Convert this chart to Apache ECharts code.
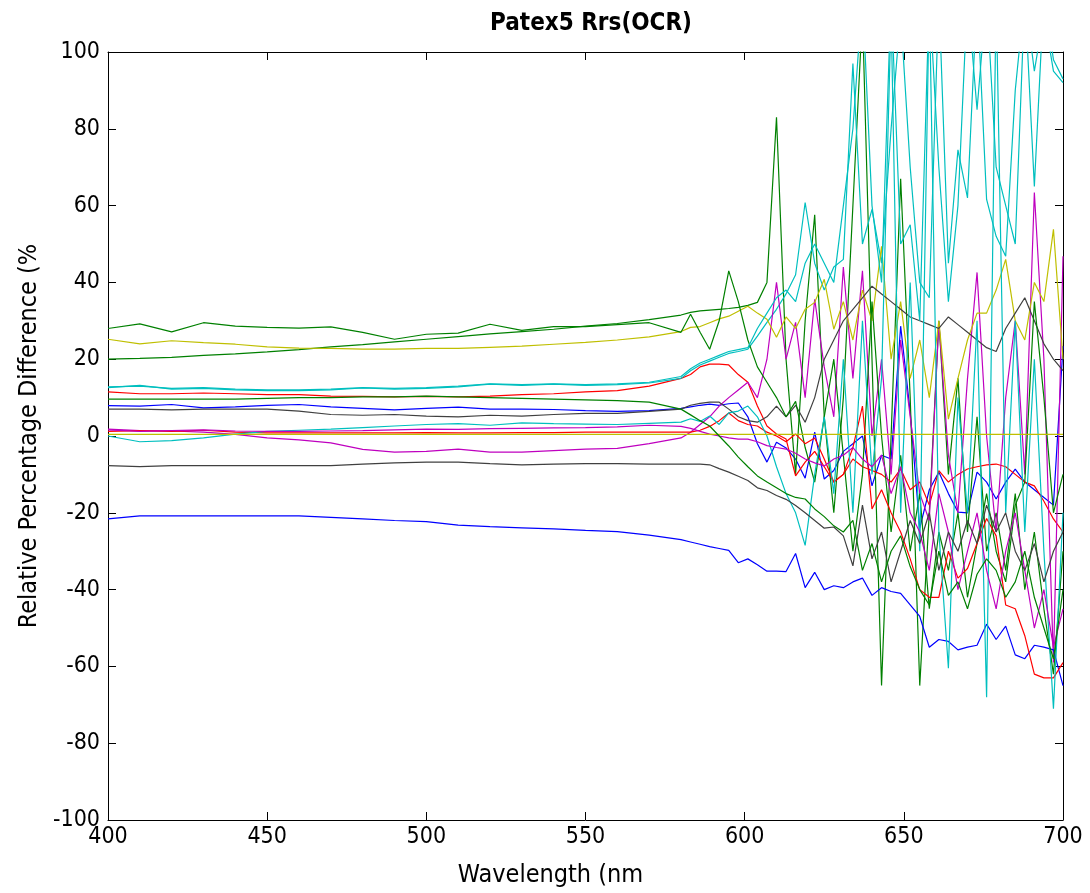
<!DOCTYPE html>
<html>
<head>
<meta charset="utf-8">
<script src="https://cdn.jsdelivr.net/npm/echarts@6/dist/echarts.min.js"></script>
<style>html,body{margin:0;padding:0;background:#fff}#c{width:1090px;height:893px}</style>
</head>
<body>
<div id="c"></div>
<script>
// Wavelength samples (nm)
const W = [400,410,420,430,440,450,460,470,480,490,500,510,520,530,540,550,560,570,
  580,583,586,589,592,595,598,601,604,607,610,613,616,619,622,625,628,631,634,637,640,643,646,649,652,655,658,661,664,667,670,673,676,679,682,685,688,691,694,697,700];
const xTicks = [400,450,500,550,600,650,700];
const yTicks = [-100,-80,-60,-40,-20,0,20,40,60,80,100];

// Relative percentage difference per series (%)
const blueHigh = [7.9,7.8,8.2,7.3,7.6,8.0,8.2,7.6,7.2,6.8,7.2,7.5,7.0,7.0,6.9,6.6,6.4,6.6,
  7.2,7.6,8.0,8.3,8.0,8.4,8.6,5,-2,-6.8,-1.6,-3.1,-6,-11,1,-11.2,-9,-4,-2,0,-13,-5,-6,28.6,6.2,-24,-14,-9.4,-15,-19.8,-20,-9.4,-12,-16.4,-12,-8.6,-12,-14,-16,-18,23.4];
const greenSmooth = [20,20.2,20.5,21,21.4,21.9,22.5,23.2,23.8,24.5,25.2,25.9,26.6,27.2,27.8,28.6,29.3,30.3,
  31.5,32.2,32.6,32.8,33,33.2,33.5,34,34.8,40,83,20,-10,30,57.6,5,-20,10,60,110,20,-65,0,67,10,-65,-20,30,-10,15,-25,5,-30,-20,-35,-15,-40,-25,-45,-62,-30];
const red1 = [11.5,11,11,11.2,11,10.8,10.8,10.4,10.3,10.2,10.3,10.2,10.4,10.8,11,11.5,11.8,13,
  15,16,18,18.7,18.7,18.5,16,14,7.8,2.6,0.5,-0.8,-10.4,-6.8,-4,-8,-12,-10,-6,-8,-9,-10,-12,-8.6,-14,-12,-18,-9,-12,-10,-8.6,-8,-7.5,-7.3,-8,-10,-12,-13,-17,-21.6,-25];
const cyan1 = [12.6,13.2,12.2,12.4,12,11.8,11.8,12,12.5,12.2,12.4,12.8,13.5,13.2,13.5,13.2,13.4,13.8,
  15,17,18.5,19.5,20.5,21.5,22,22.6,26,29.6,33,37,42,60.8,45,38,44,46,97,50,59,45,80,110,70,40,36,115,45,74.5,62,115,61.6,52,46.8,90,115,95,110,95,92];
const magenta1 = [1.8,1.4,1.3,1,0.4,-0.5,-1,-1.8,-3.5,-4.2,-4,-3.4,-4.2,-4.2,-3.8,-3.4,-3.2,-2,
  -0.5,1,3,5,7.8,10,12,14,10,20,40,20,29.6,10,35.6,18,5,44,15,43,0,20,-10,25,5,-15,-22,29.6,-5,-20,15,42.6,0,-25,10,30,-10,63.4,20,-59,46.8];
const yellow1 = [25.2,24,24.8,24.3,23.9,23.2,22.9,22.8,22.6,22.6,22.8,22.8,23.1,23.4,23.9,24.4,25,25.8,
  27.2,28.3,28.5,29.5,30.5,31.2,32.5,33.8,32,30.4,25.7,31,28,33,34.8,40.8,27.8,35,25,38,30,49.4,20,35,15,25,10,30,4.4,15,25,32,32,38,46,30,25,40,35,53.8,20];
const grayHigh = [7,7,6.8,7,7,7,6.5,5.6,5.4,5.6,5.2,5.0,5.4,5.2,5.6,5.9,5.9,6.4,
  7,8,8.5,8.8,8.8,7,5,4,3.6,5,7.8,5,8,3.6,10,20,25,30,33,36,39,37,35,33,31,30,29,28,31,29,27,25,23,22,28,32,36,30,24,20,17];
const blueLow = [-21.6,-20.8,-20.8,-20.8,-20.8,-20.8,-20.8,-21.2,-21.6,-22,-22.3,-23.2,-23.6,-23.9,-24.2,-24.6,-24.9,-25.8,
  -27,-27.6,-28.2,-28.8,-29.3,-29.8,-33,-32,-33.5,-35.2,-35.2,-35.3,-30.6,-39.5,-35.5,-40,-39,-39.5,-38,-37,-41.5,-39.5,-40.5,-41,-44,-47,-55,-53,-53.5,-55.7,-55,-54.5,-49,-53,-49.5,-57,-58,-54.5,-55,-55.7,-65];
const dkGreenTop = [28,29.2,27.1,29.5,28.6,28.3,28.1,28.4,27,25.2,26.5,26.8,29.1,27.5,28.5,28.5,29,29.5,
  27,31.7,27,22.6,30,43,35,25,18,14,10,5,9,-3,-12,5,20,-5,-30,-10,35,0,-25,-5,-30,-15,-45,-25,-35,-20,-42,-28,-15,-30,-38,-18,-12,35,10,-20,-10];
const red2 = [1.2,1.4,1.2,1.5,1.0,0.8,0.8,0.8,0.8,0.8,0.9,0.8,0.8,0.9,0.9,1.0,1.0,1.0,
  1,1,1.5,2.5,4,6,4,3,2.6,1,0,-1.5,0.5,-2,-0.5,-6,-12,-10,-3,7.8,-19,-14,-20,-25,-32,-40,-42,-42,-30,-37,-34.5,-28,-21.5,-26,-44,-45,-52,-62,-63,-63,-59];
const cyan3 = [0,-1.5,-1.2,-0.5,0.5,1.2,1.5,1.8,2.2,2.6,3,3.2,2.8,3.4,3.2,3.1,3.0,3.3,
  3.6,4.5,3.8,5.2,3,6,6.5,7.8,5,0,-8,-15,-20,-28.5,-10,5,-15,20,-20,30,-10,15,110,-20,40,-30,115,-25,-60.5,10,-20,30,-68,115,-20,30,-25,20,-30,-71,-20];
const cyan2 = [12.8,13.0,12.4,12.6,12.2,12.0,12.0,12.2,12.6,12.4,12.6,13.0,13.6,13.4,13.6,13.4,13.6,14.0,
  15.5,17.5,19,20,21,22,22.5,23,28,32,36,38,35,45,50,45,40,60,80,115,60,40,115,50,55,30,115,70,35,60,115,85,115,70,60,50,115,65,115,98,93];
const magenta2 = [1.6,1.2,1.4,1.6,1.3,1.2,1.2,1.3,1.4,1.6,1.8,1.7,1.9,2.0,2.1,2.2,2.4,2.8,
  2.5,2,1.2,0.5,0,-0.5,-0.8,-0.8,-1.5,-2.5,-3,-3.4,-4.5,-6,-7,-7.8,-6,-5,-3,-6,-8,-5,-15,-8,-20,-25,-35,-15,-25,-40,-30,-20,-35,-45,-30,-20,-35,-50,-40,-55,-45];
const yellowFlat = [0.4,0.4,0.4,0.4,0.4,0.4,0.4,0.4,0.4,0.4,0.4,0.4,0.4,0.4,0.4,0.4,0.4,0.4,
  0.4,0.4,0.4,0.4,0.4,0.4,0.4,0.4,0.4,0.4,0.4,0.4,0.4,0.4,0.4,0.4,0.4,0.4,0.4,0.4,0.4,0.4,0.4,0.4,0.4,0.4,0.4,0.4,0.4,0.4,0.4,0.4,0.4,0.4,0.4,0.4,0.4,0.4,0.4,0.4,0.4];
const grayLow = [-7.7,-8,-7.7,-7.7,-7.7,-7.7,-7.7,-7.7,-7.3,-7,-6.8,-6.8,-7.2,-7.5,-7.3,-7.2,-7.2,-7.3,
  -7.3,-7.3,-7.3,-7.5,-8.5,-9.4,-10.5,-11.6,-13.5,-14.2,-15.5,-16.5,-18.1,-20,-22,-24,-23.7,-26,-33.8,-18,-32,-25,-38,-30,-22,-28,-20,-35,-25,-30,-22,-28,-18,-25,-20,-30,-35,-28,-38,-30,-25];
const green10 = [9.6,9.6,9.6,9.6,9.6,9.8,10,10,10.2,10.2,10.4,10.2,10,9.8,9.6,9.4,9.2,8.8,
  7,5.5,4,2.6,0,-2.6,-5.5,-8,-10.4,-12,-13.5,-15,-16,-16.4,-19,-21,-23.4,-25,-22,-35,-28,-38,-30,-26,-34,-40,-44,-30,-41.5,-38,-45,-36,-32,-35,-42,-38,-30,-42,-50,-58,-40];

const C = {b:'#0000ff', g:'#008000', r:'#ff0000', c:'#00bfbf', m:'#bf00bf', y:'#bfbf00', k:'#404040'};
const seriesList = [
  [blueHigh,'b'],[greenSmooth,'g'],[red1,'r'],[cyan1,'c'],[magenta1,'m'],[yellow1,'y'],[grayHigh,'k'],
  [blueLow,'b'],[dkGreenTop,'g'],[red2,'r'],[cyan3,'c'],[magenta2,'m'],[yellowFlat,'y'],[grayLow,'k'],[green10,'g'],[cyan2,'c']
];

const FONT = "'Liberation Sans Narrow','DejaVu Sans Condensed','Liberation Sans',Arial,sans-serif";
const chart = echarts.init(document.getElementById('c'), null, {renderer:'canvas'});
const axisCommon = {
  type:'value', splitLine:{show:false},
  axisLine:{show:true, onZero:false, lineStyle:{color:'#000', width:1}},
  axisTick:{show:true, inside:true, length:8, lineStyle:{color:'#000', width:1}}
};
chart.setOption({
  animation:false,
  backgroundColor:'#fff',
  title:{text:'Patex5 Rrs(OCR)', left:586, textAlign:'center', top:7,
    textStyle:{fontFamily:FONT, fontSize:24, fontWeight:'bold', color:'#000'}},
  grid:{left:108, right:27, top:52, bottom:71, containLabel:false},
  xAxis:[
    Object.assign({}, axisCommon, {position:'bottom', min:xTicks[0], max:xTicks[xTicks.length-1], interval:50,
      axisLabel:{fontFamily:FONT, fontSize:23, color:'#000', margin:6},
      name:'Wavelength (nm', nameLocation:'middle', nameGap:43,
      nameTextStyle:{fontFamily:FONT, fontSize:25, color:'#000', padding:[0,70,0,0]}}),
    Object.assign({}, axisCommon, {position:'top', min:xTicks[0], max:xTicks[xTicks.length-1], interval:50,
      axisLabel:{show:false}})
  ],
  yAxis:[
    Object.assign({}, axisCommon, {position:'left', min:yTicks[0], max:yTicks[yTicks.length-1], interval:20,
      axisLabel:{fontFamily:FONT, fontSize:23, color:'#000', margin:8},
      name:'Relative Percentage Difference (%', nameLocation:'middle', nameGap:66, nameRotate:90,
      nameTextStyle:{fontFamily:FONT, fontSize:25, color:'#000'}}),
    Object.assign({}, axisCommon, {position:'right', min:yTicks[0], max:yTicks[yTicks.length-1], interval:20,
      axisLabel:{show:false}})
  ],
  series: seriesList.map(([vals, col]) => ({
    type:'line', xAxisIndex:0, yAxisIndex:0, showSymbol:false, symbol:'none', clip:true,
    lineStyle:{color:C[col], width:1.2}, itemStyle:{color:C[col]},
    data: W.map((w,i) => [w, vals[i]])
  }))
});
</script>
</body>
</html>
